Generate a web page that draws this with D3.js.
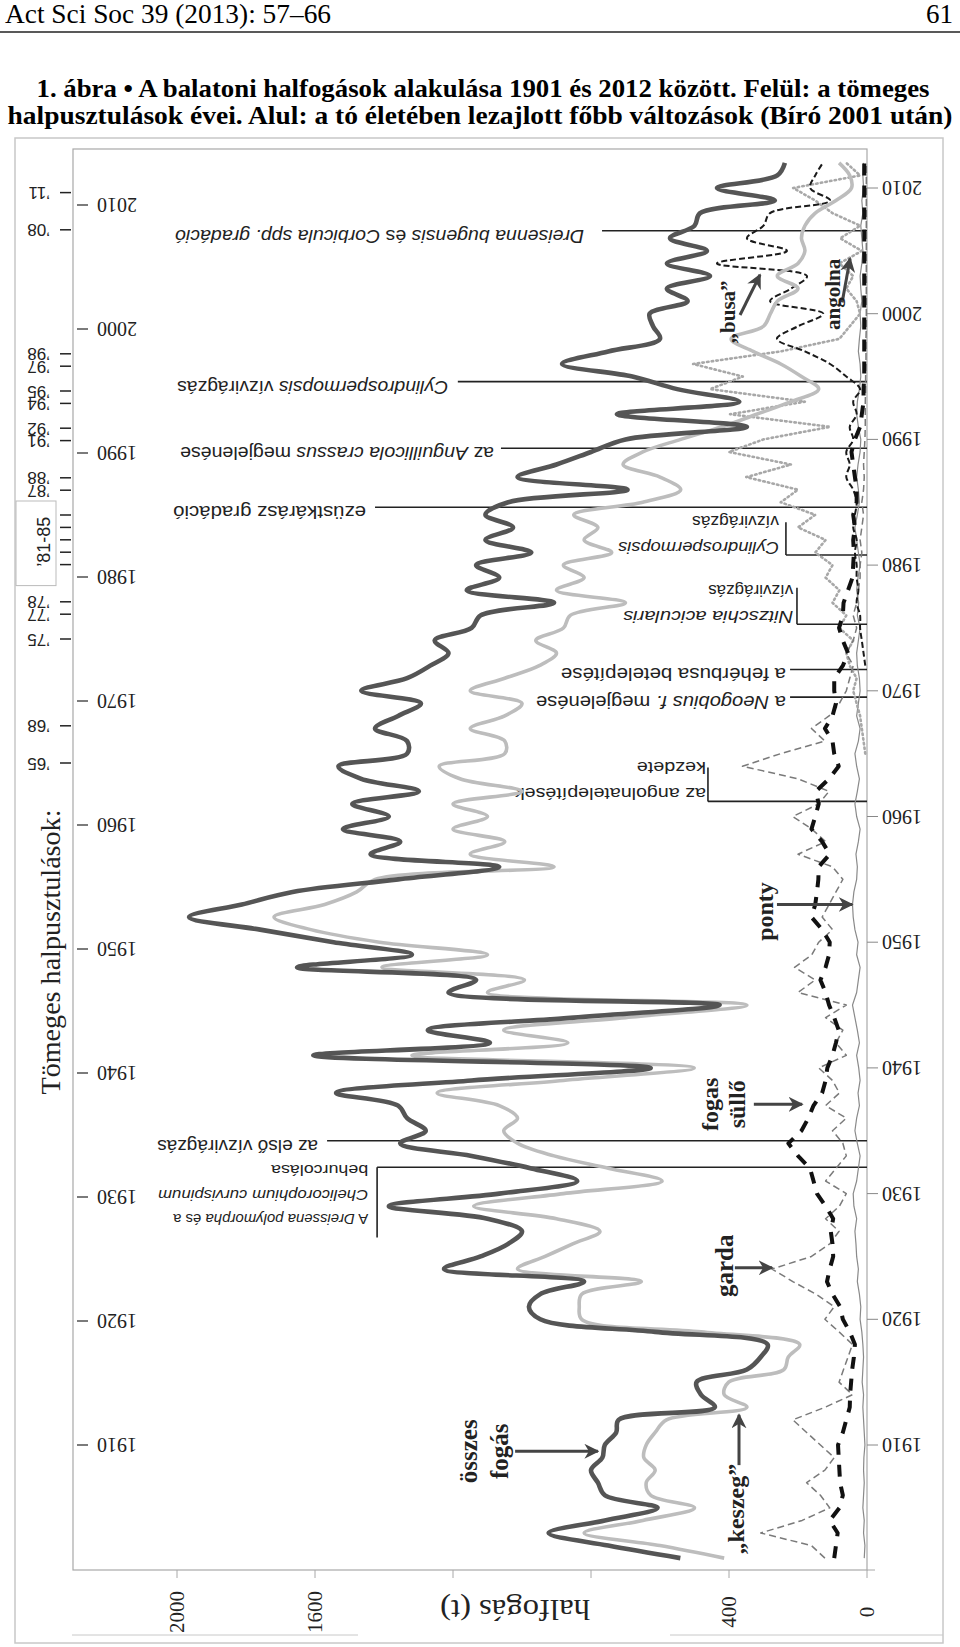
<!DOCTYPE html>
<html><head><meta charset="utf-8">
<script src="https://cdn.jsdelivr.net/npm/d3@7"></script>
<style>body{margin:0;background:#fff}svg{display:block}</style>
</head><body>
<svg id="c" width="960" height="1647"></svg>
<script>
// ---------------- DATA ----------------
const years = [1901,1902,1903,1904,1905,1906,1907,1908,1909,1910,1911,1912,1913,1914,1915,1916,1917,1918,1919,1920,
1921,1922,1923,1924,1925,1926,1927,1928,1929,1930,1931,1932,1933,1934,1935,1936,1937,1938,1939,1940,
1941,1942,1943,1944,1945,1946,1947,1948,1949,1950,1951,1952,1953,1954,1955,1956,1957,1958,1959,1960,
1961,1962,1963,1964,1965,1966,1967,1968,1969,1970,1971,1972,1973,1974,1975,1976,1977,1978,1979,1980,
1981,1982,1983,1984,1985,1986,1987,1988,1989,1990,1991,1992,1993,1994,1995,1996,1997,1998,1999,2000,
2001,2002,2003,2004,2005,2006,2007,2008,2009,2010,2011,2012];

// összes fogás (t)
const osszes = [541,750,923,760,607,760,780,800,767,760,727,720,441,481,494,348,308,288,614,947,
980,947,820,1226,1120,1040,1000,1100,1386,1066,840,973,1146,1353,1279,1333,1359,1539,1146,627,
1605,1093,1273,850,427,1213,1133,1652,1319,1546,1759,1965,1812,1665,1359,1066,1439,1353,1519,1386,
1492,1299,1466,1532,1333,1333,1426,1359,1293,1466,1333,1266,1213,1253,1146,1120,907,1160,1066,1133,
973,1106,1026,1106,1040,694,1013,900,800,700,348,725,370,550,680,884,750,600,620,630,
520,580,455,580,464,571,500,484,267,435,260,238];
// „keszeg” (t)
const keszeg = [414,600,820,650,500,627,640,614,647,640,614,581,348,414,401,241,228,195,481,827,
834,827,654,1013,933,853,774,900,1140,880,594,747,907,1013,1053,1013,1066,1246,880,501,
1319,867,1053,700,348,1100,993,1406,1100,1413,1612,1719,1572,1479,1426,907,1150,1050,1200,1100,
1200,1000,1180,1240,1050,1050,1150,1050,1000,1150,1050,950,900,960,880,860,700,900,820,880,
740,820,780,850,650,540,600,707,650,540,420,320,220,140,190,250,330,394,300,280,
260,200,260,200,180,190,180,150,90,45,50,81];
// garda (t)
const garda = [122,161,308,188,108,135,175,122,95,135,175,215,122,42,81,68,55,42,81,122,
95,148,215,275,161,108,81,120,80,60,120,90,60,70,100,60,120,80,100,140,
60,90,70,120,60,200,150,210,160,140,100,130,110,90,70,100,200,120,160,215,
140,110,200,361,250,122,161,110,80,60,50,40,60,40,30,40,30,25,20,20,
15,20,15,10,15,10,8,10,8,6,5,5,5,4,4,3,3,3,2,2,
2,2,2,2,2,2,2,2,2,2,2,2];
// fogas süllő (t)
const fogas = [95,90,85,108,80,70,78,80,82,84,70,60,50,49,46,43,38,35,50,70,
78,100,116,108,98,100,105,98,120,145,155,165,200,228,190,170,155,130,120,115,
100,90,82,95,110,120,135,120,110,108,130,161,150,145,141,140,108,130,161,150,
140,148,110,82,95,100,122,100,90,95,95,70,55,70,81,70,68,55,42,40,
38,40,35,40,30,30,35,40,45,35,20,15,10,10,8,8,8,8,8,8,
8,8,8,8,8,8,8,8,8,8,8,8];
// „busa” (t), 1972-től
const busa = [null,null,null,null,null,null,null,null,null,null,null,null,null,null,null,null,null,null,null,null,
null,null,null,null,null,null,null,null,null,null,null,null,null,null,null,null,null,null,null,null,
null,null,null,null,null,null,null,null,null,null,null,null,null,null,null,null,null,null,null,null,
null,null,null,null,null,null,null,null,null,null,null,
5,10,15,20,20,30,25,30,30,35,30,40,35,30,40,60,50,60,40,50,
30,40,20,60,107,180,261,200,127,281,220,174,435,232,348,300,281,107,165,150,128];
// angolna (t), 1965-től
const angolna = [null,null,null,null,null,null,null,null,null,null,null,null,null,null,null,null,null,null,null,null,
null,null,null,null,null,null,null,null,null,null,null,null,null,null,null,null,null,null,null,null,
null,null,null,null,null,null,null,null,null,null,null,null,null,null,null,null,null,null,null,null,
null,null,null,null,
5,10,15,20,30,40,30,50,60,40,80,60,100,80,120,100,150,120,200,150,
250,200,350,220,400,300,107,397,180,455,360,504,250,80,50,20,30,60,40,80,
15,78,20,100,150,214,20,60];
// ponty (t)
const ponty = [8,6,10,8,12,10,8,10,9,6,8,10,12,10,14,12,10,12,15,20,
18,22,28,25,30,32,35,30,38,40,30,25,20,28,35,30,22,26,20,24,
30,22,28,35,42,30,25,20,30,26,35,40,42,38,30,28,32,25,20,30,
35,28,22,30,35,25,20,30,25,20,22,28,30,25,20,28,24,30,26,20,
25,30,35,28,22,25,30,26,20,18,25,30,28,22,18,20,25,22,18,20,
15,18,20,15,12,15,18,12,15,10,12,10];

// tick labels
const yearTicks = [1910,1920,1930,1940,1950,1960,1970,1980,1990,2000,2010];
const valueTicks = [0,400,800,1200,1600,2000];
const valueTickLabels = [0,400,1600,2000];
// tömeges halpusztulások évei
const massDeathYears = [2011,2008,1998,1997,1995,1994,1992,1991,1988,1987,1985,1984,1983,1982,1981,1978,1977,1975,1968,1965];
const massDeathLabels = ["’11","’08","’98","’97","’95","’94","’92","’91","’88","’87","","","","","","’78","’77","’75","’68","’65"];

// események: év, a vonal kezdete (t), a szöveg vége (t), sorok
const events = [
 {year:2006.6, from:768, textAt:820, lines:[[["Dreisenna  bugensis",1],[" és ",0],["Corbicula",1],[" spp. gradáció",1]]], widths:[409]},
 {year:1994.6, from:1186, textAt:1214, lines:[[["Cylindrospermopsis",1],[" vízvirágzás",0]]], widths:[271]},
 {year:1989.3, from:1061, textAt:1081, lines:[[["az ",0],["Anguillicola crassus",1],[" megjelenése",0]]], widths:[314]},
 {year:1984.6, from:1426, textAt:1452, lines:[[["ezüstkárász  gradáció",0]]], widths:[193]},
 {year:1980.8, from:235, textAt:255, bracket:1983.4, lines:[[["Cylindrospermopsis",1]],[["vízvirágzás",0]]], widths:[161,87]},
 {year:1975.3, from:203, textAt:214, bracket:1978.2, lines:[[["Nitzschia acicularis",1]],[["vízvirágzás",0]]], widths:[170,85]},
 {year:1971.7, from:223, textAt:235, lines:[[["a fehérbusa  betelepítése",0]]], widths:[225]},
 {year:1969.5, from:223, textAt:235, lines:[[["a ",0],["Neogobius  f.",1],[" megjelenése",0]]], widths:[250]},
 {year:1961.2, from:461, textAt:467, bracket:1963.9, lines:[[["az angolnatelepítések",0]],[["kezdete",0]]], widths:[191,69]},
 {year:1934.2, from:1565, textAt:1591, lines:[[["az első vízvirágzás",0]]], widths:[161]},
 {year:1932.1, from:1420, textAt:1446, bracket:1926.5, down:1, lines:[[["A ",0],["Dreissena polymorpha",1],[" és a",0]],[["Chelicorophium curvispinum",1]],[["behurcolása",0]]], widths:[195,210,97]}
];

// nyilak: nyíl kezdete és vége (t, év)
const arrows = [
 {lines:["összes","fogás"], from:[1020,1909.5], to:[780,1909.5]},
 {lines:["„keszeg”"], from:[371,1908.4], to:[371,1912.4]},
 {lines:["garda"], from:[383,1924.1], to:[275,1924.1]},
 {lines:["fogas","süllő"], from:[328,1937.1], to:[188,1937.1]},
 {lines:["ponty"], from:[261,1953.0], to:[43,1953.0]},
 {lines:["„busa”"], from:[368,1999.9], to:[310,2003.1]},
 {lines:["angolna"], from:[72,2000.9], to:[49,2004.4]}
];

// ---------------- DRAW ----------------
const svg = d3.select('#c');
const SERIF = "'Liberation Serif','Times New Roman',serif";
const SANS = "'Liberation Sans',Arial,sans-serif";

const x = d3.scaleLinear().domain([0,2000]).range([867,177]);
const y = d3.scaleLinear().domain([1910,2010]).range([1445,188]);
const yL = d3.scaleLinear().domain([1940,2010]).range([1073,205]);
const plot = {x0:73, x1:867, y0:149, y1:1570};

// header
svg.append('text').attr('x',5).attr('y',23).attr('font-family',SERIF).attr('font-size',27)
  .attr('textLength',326).attr('lengthAdjust','spacingAndGlyphs').text('Act Sci Soc 39 (2013): 57–66');
svg.append('text').attr('x',953).attr('y',23).attr('text-anchor','end').attr('font-family',SERIF).attr('font-size',27).text('61');
svg.append('line').attr('x1',0).attr('x2',960).attr('y1',32).attr('y2',32).attr('stroke','#222').attr('stroke-width',1.5);
svg.append('text').attr('x',483).attr('y',97).attr('text-anchor','middle').attr('font-family',SERIF).attr('font-weight','bold').attr('font-size',26)
  .attr('textLength',893).attr('lengthAdjust','spacingAndGlyphs').text('1. ábra • A balatoni halfogások alakulása 1901 és 2012 között. Felül: a tömeges');
svg.append('text').attr('x',480).attr('y',124).attr('text-anchor','middle').attr('font-family',SERIF).attr('font-weight','bold').attr('font-size',26)
  .attr('textLength',945).attr('lengthAdjust','spacingAndGlyphs').text('halpusztulások évei. Alul: a tó életében lezajlott főbb változások (Bíró 2001 után)');

// outer frame
svg.append('rect').attr('x',15).attr('y',138).attr('width',928).attr('height',1505).attr('fill','none').attr('stroke','#c8c8c8').attr('stroke-width',1.5);
svg.append('line').attr('x1',72).attr('x2',358).attr('y1',1635).attr('y2',1635).attr('stroke','#c8c8c8');
svg.append('line').attr('x1',670).attr('x2',943).attr('y1',1635).attr('y2',1635).attr('stroke','#c8c8c8');

// plot frame
svg.append('rect').attr('x',plot.x0).attr('y',plot.y0).attr('width',plot.x1-plot.x0).attr('height',plot.y1-plot.y0)
  .attr('fill','none').attr('stroke','#a8a8a8').attr('stroke-width',1.2);
svg.append('line').attr('x1',plot.x1).attr('x2',plot.x1+8).attr('y1',plot.y1).attr('y2',plot.y1).attr('stroke','#a8a8a8');

// value axis
const gx = svg.append('g');
gx.selectAll('line').data(valueTicks).join('line')
  .attr('x1',d=>x(d)).attr('x2',d=>x(d)).attr('y1',plot.y1).attr('y2',plot.y1+8).attr('stroke','#a8a8a8');
gx.selectAll('text').data(valueTickLabels).join('text')
  .attr('transform',d=>`translate(${x(d)},1612) rotate(-90)`).attr('text-anchor','middle').attr('dominant-baseline','central')
  .attr('font-family',SERIF).attr('font-size',21).attr('fill','#222').text(d=>d);
svg.append('text').attr('transform','translate(515,1610) rotate(180)').attr('text-anchor','middle').attr('dominant-baseline','central')
  .attr('font-family',SERIF).attr('font-size',30).attr('textLength',150).attr('lengthAdjust','spacingAndGlyphs').attr('fill','#222').text('halfogás  (t)');

// right year axis
const gr = svg.append('g');
gr.selectAll('line').data(yearTicks).join('line')
  .attr('x1',plot.x1).attr('x2',plot.x1+11).attr('y1',d=>y(d)).attr('y2',d=>y(d)).attr('stroke','#888');
gr.selectAll('text').data(yearTicks).join('text')
  .attr('transform',d=>`translate(882,${y(d)}) rotate(180)`).attr('text-anchor','end').attr('dominant-baseline','central')
  .attr('font-family',SERIF).attr('font-size',20).attr('fill','#222').text(d=>d);

// left year axis (inside)
const gl = svg.append('g');
gl.selectAll('line').data(yearTicks).join('line')
  .attr('x1',77).attr('x2',88).attr('y1',d=>yL(d)).attr('y2',d=>yL(d)).attr('stroke','#333').attr('stroke-width',1.3);
gl.selectAll('text').data(yearTicks).join('text')
  .attr('transform',d=>`translate(97,${yL(d)}) rotate(180)`).attr('text-anchor','end').attr('dominant-baseline','central')
  .attr('font-family',SERIF).attr('font-size',20).attr('fill','#222').text(d=>d);

// mass deaths
svg.append('rect').attr('x',16).attr('y',yL(1985)-14).attr('width',40).attr('height',yL(1981)-yL(1985)+35)
  .attr('fill','#fff').attr('stroke','#bbb');
const gm = svg.append('g');
gm.selectAll('line').data(massDeathYears).join('line')
  .attr('x1',60).attr('x2',71).attr('y1',d=>yL(d)).attr('y2',d=>yL(d)).attr('stroke','#222').attr('stroke-width',1.5);
gm.selectAll('text').data(massDeathYears).join('text')
  .attr('transform',d=>`translate(50,${yL(d)}) rotate(180)`).attr('text-anchor','start').attr('dominant-baseline','central')
  .attr('font-family',SANS).attr('font-size',17).attr('fill','#222').text((d,i)=>massDeathLabels[i]);
svg.append('text').attr('transform',`translate(44,${(yL(1985)+yL(1981))/2+2}) rotate(-90)`).attr('text-anchor','middle').attr('dominant-baseline','central')
  .attr('font-family',SANS).attr('font-size',18).attr('fill','#222').text('’81-85');
svg.append('text').attr('transform','translate(51,952) rotate(-90)').attr('text-anchor','middle').attr('dominant-baseline','central')
  .attr('font-family',SERIF).attr('font-size',27).attr('textLength',285).attr('lengthAdjust','spacingAndGlyphs').attr('fill','#222').text('Tömeges  halpusztulások:');

// events
const ge = svg.append('g');
events.forEach(ev=>{
  const hy = y(ev.year);
  ge.append('line').attr('x1',x(ev.from)).attr('x2',plot.x1).attr('y1',hy).attr('y2',hy).attr('stroke','#222').attr('stroke-width',1.6);
  const size = ev.down ? 15 : (ev.bracket ? 17 : 18);
  if (ev.bracket) {
    ge.append('line').attr('x1',x(ev.from)).attr('x2',x(ev.from)).attr('y1',hy).attr('y2',y(ev.bracket)).attr('stroke','#222').attr('stroke-width',1.6);
  }
  ev.lines.forEach((ln,i)=>{
    let yc;
    if (!ev.bracket) yc = hy + 5;
    else if (ev.down) yc = hy + 53 - i*24.5;
    else yc = hy - 7 - i*26;
    const t = ge.append('text').attr('transform',`translate(${x(ev.textAt)},${yc}) rotate(180)`)
      .attr('text-anchor','start').attr('dominant-baseline','central').attr('font-family',SANS).attr('font-size',size).attr('fill','#222')
      .attr('textLength',ev.widths[i]).attr('lengthAdjust','spacingAndGlyphs');
    ln.forEach(p=>t.append('tspan').attr('font-style',p[1]?'italic':'normal').text(p[0]));
  });
});

// series
svg.append('clipPath').attr('id','clip').append('rect').attr('x',plot.x0).attr('y',plot.y0).attr('width',plot.x1-plot.x0+3).attr('height',plot.y1-plot.y0);
const gs = svg.append('g').attr('clip-path','url(#clip)');
function draw(vals, style, curve){
  const pts = years.map((yr,i)=>({yr, v: vals[i]}));
  const line = d3.line().defined(d=>d.v!=null).x(d=>x(d.v)).y(d=>y(d.yr)).curve(curve);
  const p = gs.append('path').attr('d',line(pts)).attr('fill','none').attr('stroke',style.c).attr('stroke-width',style.w)
    .attr('stroke-linejoin','round');
  if (style.dash) p.attr('stroke-dasharray',style.dash);
  if (style.cap) p.attr('stroke-linecap',style.cap);
}
draw(ponty, {c:'#8a8a8a', w:1.2}, d3.curveLinear);
draw(angolna, {c:'#a8a8a8', w:2.6, dash:'1.5,3.2', cap:'round'}, d3.curveLinear);
draw(garda, {c:'#7a7a7a', w:1.5, dash:'7,4'}, d3.curveLinear);
draw(busa, {c:'#1a1a1a', w:2, dash:'6,3'}, d3.curveCatmullRom.alpha(0.5));
draw(fogas, {c:'#111', w:4, dash:'12,10'}, d3.curveLinear);
draw(keszeg, {c:'#bdbdbd', w:3.6}, d3.curveCatmullRom.alpha(0.5));
draw(osszes, {c:'#555', w:4.6}, d3.curveCatmullRom.alpha(0.5));

// arrows with labels
const defs = svg.append('defs');
defs.append('marker').attr('id','ah').attr('viewBox','0 0 10 10').attr('refX',9).attr('refY',5)
  .attr('markerWidth',5).attr('markerHeight',5).attr('orient','auto').attr('markerUnits','strokeWidth')
  .append('path').attr('d','M0,0 L10,5 L0,10 L3,5 Z').attr('fill','#444');
const ga = svg.append('g');
arrows.forEach(a=>{
  const x1=x(a.from[0]), y1=y(a.from[1]), x2=x(a.to[0]), y2=y(a.to[1]);
  ga.append('line').attr('x1',x1).attr('y1',y1).attr('x2',x2).attr('y2',y2).attr('stroke','#444').attr('stroke-width',3).attr('marker-end','url(#ah)');
});
function vlabel(cx, cy, txt, size){
  svg.append('text').attr('transform',`translate(${cx},${cy}) rotate(-90)`).attr('text-anchor','middle').attr('dominant-baseline','central')
    .attr('font-family',SERIF).attr('font-weight','bold').attr('font-size',size).attr('fill','#222').text(txt);
}
arrows.forEach(a=>{
  const x1=x(a.from[0]), y1=y(a.from[1]);
  if (a.lines[0]==="összes"){ vlabel(x1-47,y1,"összes",25); vlabel(x1-16,y1,"fogás",25); }
  else if (a.lines[0]==="„keszeg”"){ vlabel(x1-3,y1+44,"„keszeg”",24); }
  else if (a.lines[0]==="garda"){ vlabel(x1-10,y1-2,"garda",25); }
  else if (a.lines[0]==="fogas"){ vlabel(x1-44,y1,"fogas",24); vlabel(x1-17,y1,"süllő",24); }
  else if (a.lines[0]==="ponty"){ vlabel(x1-12,y1+7,"ponty",24); }
  else if (a.lines[0]==="„busa”"){ vlabel(x1-12,y1-3,"„busa”",21); }
  else if (a.lines[0]==="angolna"){ vlabel(x1-9,y1-8,"angolna",21); }
});
</script></body></html>
